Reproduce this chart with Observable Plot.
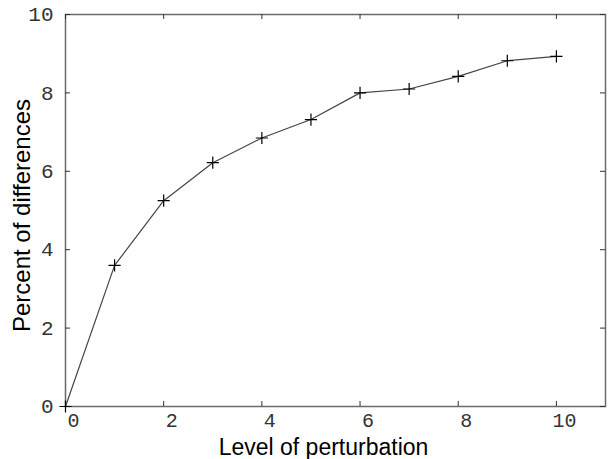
<!DOCTYPE html>
<html><head><meta charset="utf-8">
<script src="https://cdn.jsdelivr.net/npm/d3@7"></script>
<script src="https://cdn.jsdelivr.net/npm/@observablehq/plot@0.6"></script>
<style>body{margin:0;background:#fff}</style>
</head><body><div id="chart"></div>
<script>
const levels = [0,1,2,3,4,5,6,7,8,9,10];
const percent = [0,3.6,5.25,6.22,6.85,7.32,8.0,8.1,8.42,8.82,8.93];
const xTicks = [0,2,4,6,8,10];
const yTicks = [0,2,4,6,8,10];
const xTitle = "Level of perturbation";
const yTitle = "Percent of differences";
const data = levels.map((l,i)=>({level:l, percent:percent[i]}));
const mono = "Liberation Mono, Courier New, monospace";
const sans = "Liberation Sans, Arial, sans-serif";
const plotH = 459 - 14 - 53;
const chart = Plot.plot({
  width: 608, height: 459,
  marginLeft: 65, marginRight: 3, marginTop: 14, marginBottom: 53,
  x: {domain: [0, 11], axis: null},
  y: {domain: [0, 10], axis: null},
  marks: [
    Plot.frame({stroke: "#6a6a6a", strokeWidth: 1.5}),
    Plot.tickX(xTicks, {x: d=>d, insetTop: plotH-5, stroke: "#333"}),
    Plot.tickX(xTicks, {x: d=>d, insetBottom: plotH-5, stroke: "#333"}),
    Plot.tickY(yTicks, {y: d=>d, insetRight: 540-5, stroke: "#333"}),
    Plot.tickY(yTicks, {y: d=>d, insetLeft: 540-5, stroke: "#333"}),
    Plot.axisX(xTicks, {anchor: "bottom", tickSize: 0, tickPadding: 6, dx: 8, fontSize: 20, fontFamily: mono, fill: "#333", label: null}),
    Plot.axisY(yTicks, {anchor: "left", tickSize: 0, tickPadding: 12, fontSize: 21, fontFamily: mono, fill: "#333", label: null}),
    Plot.line(data, {x: "level", y: "percent", stroke: "#444", strokeWidth: 1.2}),
    Plot.dot(data, {x: "level", y: "percent", symbol: "plus", r: 4, stroke: "#000", strokeWidth: 1.2}),
    Plot.text([xTitle], {text: d=>d, frameAnchor: "bottom", dy: 41, dx: -12, fontSize: 23, fontFamily: sans, fill: "#000", lineAnchor: "middle", textAnchor: "middle"}),
    Plot.text([yTitle], {text: d=>d, frameAnchor: "left", dx: -43, dy: 5, rotate: -90, fontSize: 24, fontFamily: sans, fill: "#000", lineAnchor: "middle", textAnchor: "middle"})
  ]
});
document.getElementById("chart").appendChild(chart);
</script>
</body></html>
